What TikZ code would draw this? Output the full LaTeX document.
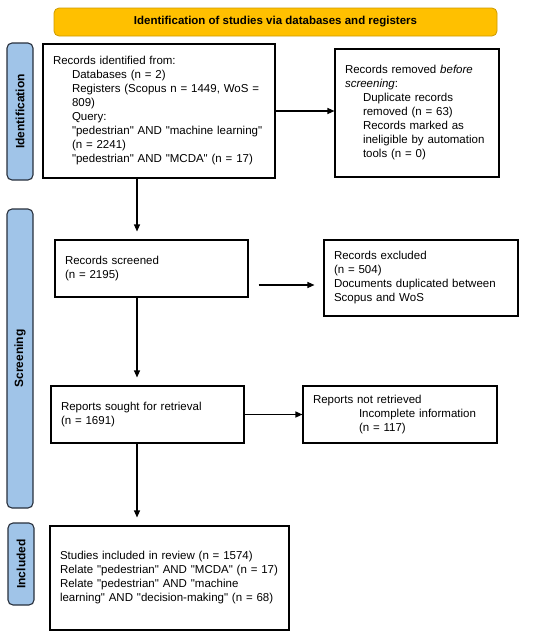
\documentclass[tikz,border=0pt]{standalone}
\usepackage{fontspec}
\setmainfont{Liberation Sans}[Ligatures=TeXOff]
\usetikzlibrary{arrows.meta}
\definecolor{pgold}{RGB}{255,192,0}
\definecolor{pblue}{RGB}{160,196,232}
\definecolor{pedge}{RGB}{40,48,60}

\begin{document}
\begin{tikzpicture}[
  x=1pt, y=-1pt,
  font=\fontsize{11.5}{14}\selectfont,
  recordbox/.style={draw, line width=1.1pt, align=left,
                    inner xsep=10pt, inner ysep=0pt},
  stagebar/.style={draw=pedge, line width=1.1pt, rounded corners=5pt,
                   fill=pblue, rotate=90, inner sep=0pt, minimum height=26pt,
                   font=\fontsize{12}{14}\selectfont\bfseries},
  headerbar/.style={draw=pgold!80!black, line width=0.8pt, fill=pgold,
                    rounded corners=5pt, minimum height=28pt,
                    font=\fontsize{11.5}{14}\selectfont\bfseries},
  flow/.style={-{Triangle[length=7pt,width=6pt]}, line width=1.1pt}
]
\useasboundingbox (0,0) rectangle (550,635);

\node[headerbar, minimum width=443pt] (header) at (275.5,22)
  {Identification of studies via databases and registers};

% stage bars on the left
\node[stagebar, minimum width=137pt] (identification) at (20,111.5) {Identification};
\node[stagebar, minimum width=299pt] (screening) at (20,358.5) {Screening};
\node[stagebar, minimum width=82pt] (included) at (21,564) {Included};

% record boxes
\node[recordbox, text width=212pt, minimum height=134pt] (identified) at (159,111)
  {Records identified from:\\
   \hspace*{19pt}Databases (n = 2)\\
   \hspace*{19pt}Registers (Scopus n = 1449, WoS =\\
   \hspace*{19pt}809)\\
   \hspace*{19pt}Query:\\
   \hspace*{19pt}"pedestrian" AND "machine learning"\\
   \hspace*{19pt}(n = 2241)\\
   \hspace*{19pt}"pedestrian" AND "MCDA" (n = 17)};
\node[recordbox, text width=144pt, minimum height=128pt] (removed) at (417,113)
  {Records removed \emph{before}\\
   \emph{screening}:\\
   \hspace*{18pt}Duplicate records\\
   \hspace*{18pt}removed (n = 63)\\
   \hspace*{18pt}Records marked as\\
   \hspace*{18pt}ineligible by automation\\
   \hspace*{18pt}tools (n = 0)};
\node[recordbox, text width=173pt, minimum height=57pt] (screened) at (151.5,268.5)
  {Records screened\\
   (n = 2195)};
\node[recordbox, text width=174pt, minimum height=76pt] (excluded) at (421,278)
  {Records excluded\\
   (n = 504)\\
   Documents duplicated between\\
   Scopus and WoS};
\node[recordbox, text width=173pt, minimum height=57pt] (sought) at (147.5,414.5)
  {Reports sought for retrieval\\
   (n = 1691)};
\node[recordbox, text width=174pt, minimum height=57pt] (notretrieved) at (400,414.5)
  {Reports not retrieved\\
   \hspace*{46pt}Incomplete information\\
   \hspace*{46pt}(n = 117)};
\node[recordbox, text width=219pt, minimum height=104pt] (studies) at (169.5,578)
  {Studies included in review (n = 1574)\\
   Relate "pedestrian" AND "MCDA" (n = 17)\\
   Relate "pedestrian" AND "machine\\
   learning" AND "decision-making" (n = 68)};

% connectors
\coordinate (spine) at (137,0);
\draw[flow] (identified.east) -- (identified.east -| removed.west);
\draw[flow, shorten >=8pt] (identified.south -| spine) -- (screened.north -| spine);
\draw[flow, shorten <=10pt, shorten >=9pt] ([yshift=-16.5pt]screened.east)
  -- ([yshift=-16.5pt]screened.east -| excluded.west);
\draw[flow, shorten >=8pt] (screened.south -| spine) -- (sought.north -| spine);
\draw[flow] (sought.east) -- (sought.east -| notretrieved.west);
\draw[flow, shorten >=8pt] (sought.south -| spine) -- (studies.north -| spine);
\end{tikzpicture}
\end{document}
